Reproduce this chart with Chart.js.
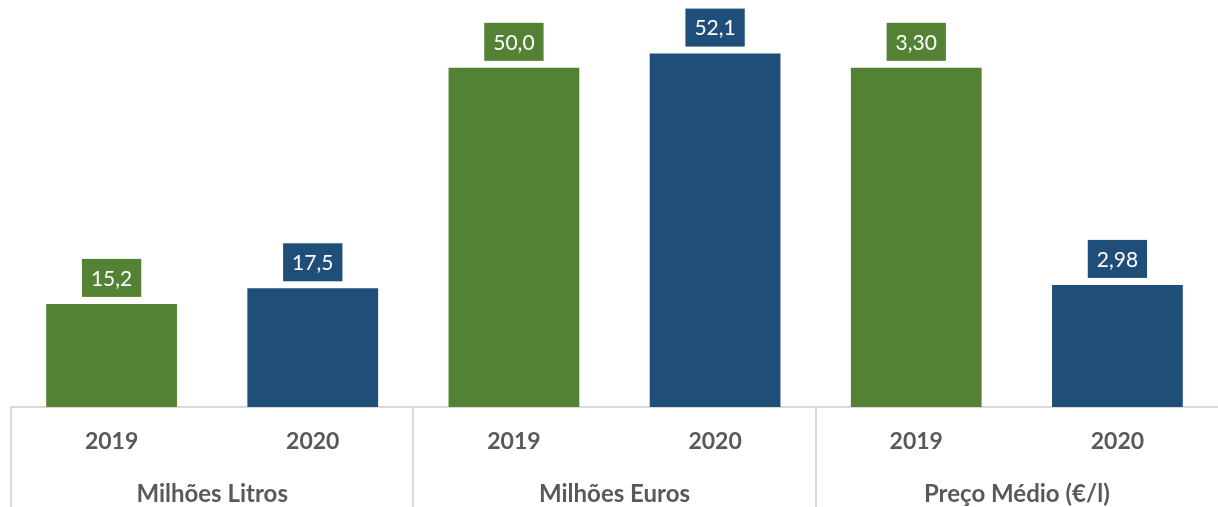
<!DOCTYPE html>
<html>
<head>
<meta charset="utf-8">
<script src="https://cdn.jsdelivr.net/npm/chart.js@4/dist/chart.umd.min.js"></script>
<style>
  body { margin: 0; background: #fff; }
  #wrap { width: 1218px; height: 507px; position: relative; }
</style>
</head>
<body>
<div id="wrap"><canvas id="barChart"></canvas></div>
<script>
var years = ['2019', '2020', '2019', '2020', '2019', '2020'];
var groups = ['Milhões Litros', 'Milhões Euros', 'Preço Médio (€/l)'];
var amounts = [15.2, 17.5, 50.0, 52.1, null, null];   // litros / euros (milhões)
var prices = [null, null, null, null, 3.30, 2.98];    // €/l

var green = '#548235';
var blue = '#1F4E79';
var barColors = years.map(function (y) { return y === '2019' ? green : blue; });

// boxed value labels above each bar
var boxLabels = {
    id: 'boxLabels',
    afterDatasetsDraw: function (chart) {
        var ctx = chart.ctx;
        ctx.save();
        ctx.font = '21px Lato';
        ctx.textAlign = 'center';
        ctx.textBaseline = 'middle';
        chart.data.datasets.forEach(function (ds, di) {
            chart.getDatasetMeta(di).data.forEach(function (bar, i) {
                var v = ds.data[i];
                if (v === null) return;
                var txt = v.toFixed(ds.decimals).replace('.', ',');
                var w = ctx.measureText(txt).width + 18;
                var h = 38;
                var bottom = bar.y - 7;
                ctx.fillStyle = barColors[i];
                ctx.fillRect(bar.x - w / 2, bottom - h, w, h);
                ctx.fillStyle = '#fff';
                ctx.fillText(txt, bar.x, bottom - h / 2 + 1);
            });
        });
        ctx.restore();
    }
};

// vertical separators between the groups under the axis
var groupLines = {
    id: 'groupLines',
    afterDraw: function (chart) {
        var x = chart.scales.x;
        var ctx = chart.ctx;
        var step = (x.right - x.left) / years.length;
        ctx.save();
        ctx.strokeStyle = '#d9d9d9';
        ctx.lineWidth = 2;
        for (var i = 0; i < years.length; i += 2) {
            var px = Math.round(x.left + i * step);
            ctx.beginPath();
            ctx.moveTo(px, x.top);
            ctx.lineTo(px, chart.height);
            ctx.stroke();
        }
        ctx.restore();
    }
};

Chart.defaults.font.family = 'Lato';

var ctx = document.getElementById('barChart').getContext('2d');
var myChart = new Chart(ctx, {
    type: 'bar',
    data: {
        labels: years,
        datasets: [{
            label: 'Milhões',
            data: amounts,
            decimals: 1,
            yAxisID: 'y',
            backgroundColor: barColors
        }, {
            label: 'Preço Médio',
            data: prices,
            decimals: 2,
            yAxisID: 'y2',
            backgroundColor: barColors
        }]
    },
    options: {
        responsive: true,
        maintainAspectRatio: false,
        animation: false,
        layout: { padding: { left: 11, right: 0, top: 0, bottom: 0 } },
        datasets: {
            bar: { grouped: false, categoryPercentage: 1, barPercentage: 0.65 }
        },
        plugins: {
            legend: { display: false },
            tooltip: { enabled: false }
        },
        scales: {
            x: {
                weight: 0,
                grid: { display: false, drawTicks: false },
                border: { display: true, color: '#d9d9d9', width: 2 },
                ticks: { padding: 21, maxRotation: 0, color: '#595959', font: { size: 23, weight: 'bold' } },
                afterFit: function (scale) { scale.height = 49; }
            },
            x2: {
                type: 'category',
                labels: groups,
                position: 'bottom',
                weight: 1,
                grid: { display: false, drawTicks: false },
                border: { display: false },
                ticks: { padding: 24, maxRotation: 0, color: '#595959', font: { size: 24, weight: 'bold' } },
                afterFit: function (scale) { scale.height = 51; }
            },
            y: { display: false, min: 0, max: 60 },
            y2: { display: false, min: 2.8, max: 3.4 }
        }
    },
    plugins: [boxLabels, groupLines]
});
</script>
</body>
</html>
